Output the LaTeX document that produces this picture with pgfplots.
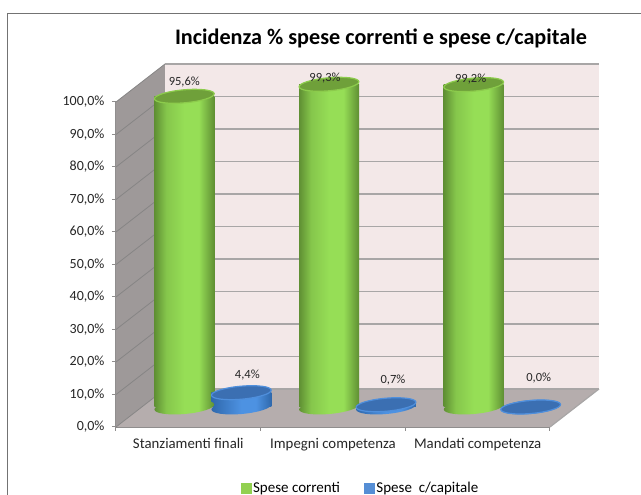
\documentclass[border=0pt]{standalone}
\usepackage{fontspec}
\setmainfont{Carlito}
\usepackage{pgfplots}
\usepackage{pgfplotstable}
\pgfplotsset{compat=1.18}
\definecolor{gA}{HTML}{5F8F33}
\definecolor{gB}{HTML}{96DE56}
\definecolor{gTop}{HTML}{6FA03A}
\definecolor{gRim}{HTML}{8CCB4C}
\definecolor{bA}{HTML}{2F68AC}
\definecolor{bB}{HTML}{4D92E2}
\definecolor{bTop}{HTML}{3B6FB2}
\definecolor{bRim}{HTML}{4F8FDC}
\definecolor{backc}{HTML}{F3E8E8}
\definecolor{sidec}{HTML}{9E9999}
\definecolor{floorc}{HTML}{B5ADAD}
\definecolor{gridc}{HTML}{A8A6A6}
\definecolor{legG}{HTML}{92D050}
\definecolor{legB}{HTML}{558ED5}
\pgfdeclarehorizontalshading{greencyl}{100bp}{color(0bp)=(gA); color(25bp)=(gA); color(35bp)=(gB!70!gA); color(50bp)=(gB); color(62bp)=(gB); color(75bp)=(gA); color(100bp)=(gA)}
\pgfdeclarehorizontalshading{bluecyl}{100bp}{color(0bp)=(bA); color(25bp)=(bA); color(50bp)=(bB); color(62bp)=(bB); color(75bp)=(bA); color(100bp)=(bA)}
\pgfdeclareplotmark{greenbase}{\pgftransformrotate{5}\pgfpathellipse{\pgfpointorigin}{\pgfqpoint{30pt}{0pt}}{\pgfqpoint{0pt}{7pt}}\pgfshadepath{greencyl}{0}\pgfusepath{discard}}
\pgfdeclareplotmark{bluebase}{\pgftransformrotate{5}\pgfpathellipse{\pgfpointorigin}{\pgfqpoint{30pt}{0pt}}{\pgfqpoint{0pt}{7pt}}\pgfshadepath{bluecyl}{0}\pgfusepath{discard}}
\pgfdeclareplotmark{cyltop}{\pgftransformrotate{5}\pgfpathellipse{\pgfpointorigin}{\pgfqpoint{30pt}{0pt}}{\pgfqpoint{0pt}{6.5pt}}\pgfusepathqfillstroke}
\pgfkeys{/pgf/number format/.cd,fixed,fixed zerofill,precision=1,use comma,assume math mode=true}
\pgfplotstableread{
x val dx dy
-0.197 95.6 0 14.5
0.803 99.3 -4 6
1.803 99.2 -3 6
}\greentab
\pgfplotstableread{
x val dx dy
0.197 4.4 6 17.5
1.197 0.7 7 25
2.197 0.0 8 29
}\bluetab
\pgfplotsset{gbar/.style={ybar,bar width=60pt,bar shift=0pt,draw=none,shade,shading=greencyl,forget plot},
 bbar/.style={ybar,bar width=60pt,bar shift=0pt,draw=none,shade,shading=bluecyl,forget plot}}
\begin{document}
\begin{tikzpicture}[x=1pt,y=1pt]
\path[use as bounding box] (0,0) rectangle (641,495);
\draw[color=gray!90!black,line width=0.9pt] (7.5,0) -- (7.5,482) -- (641,482);
\begin{axis}[
  at={(116pt,68pt)},anchor=south west,scale only axis,width=434pt,height=325pt,
  xmin=-0.5,xmax=2.5,ymin=0,ymax=100,clip=false,
  axis x line*=bottom,axis y line*=left,
  axis line style={color=gridc!85!black,line width=1.5pt,-},
  tick style={color=gridc!85!black,line width=1pt},
  major tick length=4pt,tick align=outside,
  xtick={-0.5,0.5,1.5,2.5},x tick label as interval,
  xticklabels={Stanziamenti finali,Impegni competenza,Mandati competenza},
  ytick={0,10,...,100},
  yticklabel={\pgfmathprintnumber{\tick}\%},
  tick label style={color=black!85},
  y tick label style={xshift=-4pt,font=\fontsize{14}{15}\selectfont},
  x tick label style={yshift=-4pt,font=\fontsize{14.8}{16}\selectfont},
  title={\textbf{Incidenza \% spese correnti e spese c/capitale}},
  title style={at={(0.6106,1.178)},anchor=center,font=\fontsize{22.2}{24}\selectfont},
]
\fill[sidec] (axis cs:-0.5,0) -- ([shift={(49pt,38pt)}]axis cs:-0.5,0) -- ([shift={(49pt,38pt)}]axis cs:-0.5,100) -- (axis cs:-0.5,100) -- cycle;
\fill[backc] ([shift={(49pt,38pt)}]axis cs:-0.5,0) rectangle ([shift={(49pt,38pt)}]axis cs:2.5,100);
\fill[floorc] (axis cs:-0.5,0) -- ([shift={(49pt,38pt)}]axis cs:-0.5,0) -- ([shift={(49pt,38pt)}]axis cs:2.5,0) -- (axis cs:2.5,0) -- cycle;
\pgfplotsinvokeforeach{0,10,...,100}{
  \draw[gridc!80!black,line width=0.8pt] (axis cs:-0.5,#1) -- ([shift={(49pt,38pt)}]axis cs:-0.5,#1);
  \draw[gridc,line width=1.6pt] ([shift={(49pt,38pt)}]axis cs:-0.5,#1) -- ([shift={(49pt,38pt)}]axis cs:2.5,#1);
}
\draw[gridc,line width=1.2pt] (axis cs:2.5,0) -- ([shift={(49pt,38pt)}]axis cs:2.5,0);
\end{axis}
\begin{axis}[
  at={(140.5pt,88pt)},anchor=south west,scale only axis,width=434pt,height=325pt,
  xmin=-0.5,xmax=2.5,ymin=0,ymax=100,clip=false,hide axis,
  legend style={at={(0.5069,-0.2500)},anchor=center,draw=none,fill=none,font=\fontsize{15}{16}\selectfont,legend columns=2,inner sep=0pt,/tikz/every even column/.append style={column sep=22pt}},
  legend cell align=left,
]
\addplot[only marks,mark=greenbase,forget plot] table[x=x,y expr=0] {\greentab};
\addplot[gbar] coordinates {(-0.197,95.6)};
\addplot[gbar] coordinates {(0.803,99.3)};
\addplot[gbar] coordinates {(1.803,99.2)};
\addplot[only marks,mark=cyltop,mark options={fill=gTop,draw=gRim,line width=1.2pt},forget plot,
  visualization depends on={\thisrow{dx} \as \dx},visualization depends on={\thisrow{dy} \as \dy},
  point meta=y,nodes near coords={\pgfmathprintnumber{\pgfplotspointmeta}\%},
  nodes near coords style={anchor=center,xshift=\dx pt,yshift=\dy pt,font=\fontsize{12.5}{13}\selectfont,color=black!85}
] table[x=x,y=val] {\greentab};
\addplot[only marks,mark=bluebase,forget plot] table[x=x,y expr=0] {\bluetab};
\addplot[bbar] coordinates {(0.197,4.4)};
\addplot[bbar] coordinates {(1.197,0.7)};
\addplot[bbar] coordinates {(2.197,0.0)};
\addplot[only marks,mark=cyltop,mark options={fill=bTop,draw=bRim,line width=1.2pt},forget plot,
  visualization depends on={\thisrow{dx} \as \dx},visualization depends on={\thisrow{dy} \as \dy},
  point meta=y,nodes near coords={\pgfmathprintnumber{\pgfplotspointmeta}\%},
  nodes near coords style={anchor=center,xshift=\dx pt,yshift=\dy pt,font=\fontsize{12.5}{13}\selectfont,color=black!85}
] table[x=x,y=val] {\bluetab};
\addlegendimage{legend image code/.code={\fill[legG] (0pt,-5pt) rectangle (10pt,5pt);}}
\addlegendentry{Spese correnti}
\addlegendimage{legend image code/.code={\fill[legB] (0pt,-5pt) rectangle (10pt,5pt);}}
\addlegendentry{Spese\ \ c/capitale}
\end{axis}
\end{tikzpicture}
\end{document}
